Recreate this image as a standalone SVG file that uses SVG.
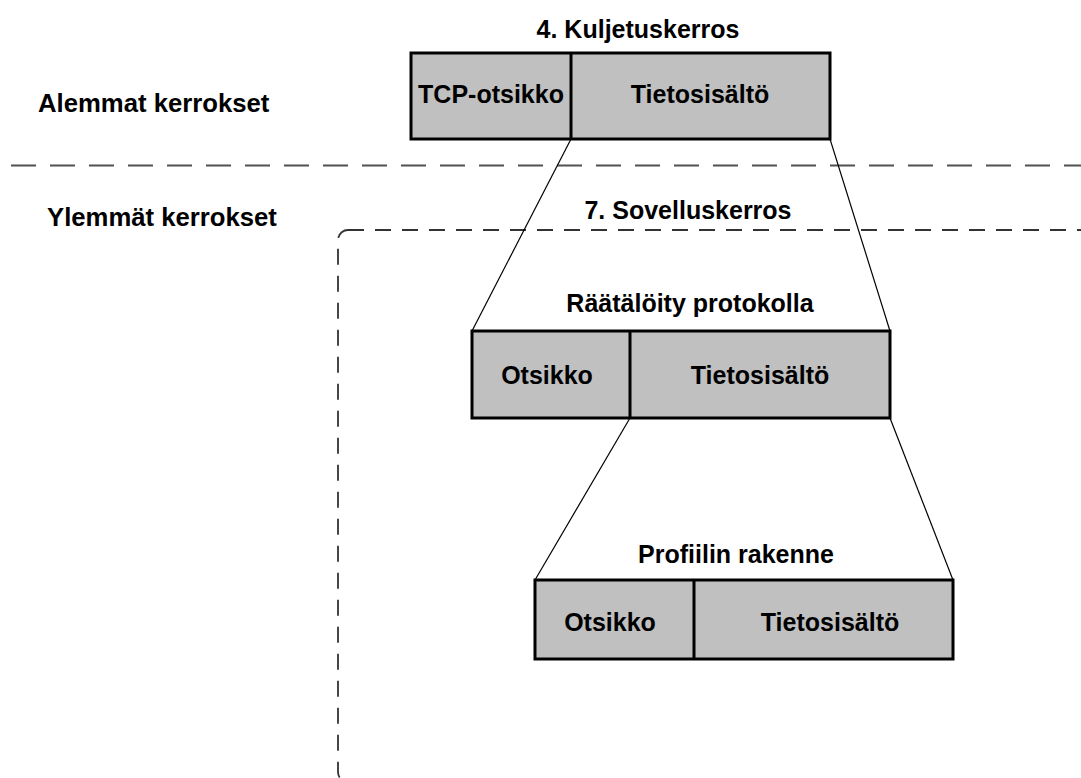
<svg xmlns="http://www.w3.org/2000/svg" width="1081" height="778" viewBox="0 0 1081 778">
  <style>
    text { font-family: "Liberation Sans", Arial, sans-serif; font-weight: bold; font-size: 25px; fill: #000; }
    .mid { text-anchor: middle; }
    .side { font-size: 25.7px; }
    .cell { fill: #c0c0c0; stroke: #000; stroke-width: 3; }
    .div { stroke: #000; stroke-width: 3; }
    .link { stroke: #000; stroke-width: 1.2; fill: none; }
    .sep { stroke: #505050; stroke-width: 2; stroke-dasharray: 25 14; fill: none; }
    .frame { stroke: #333; stroke-width: 1.8; stroke-dasharray: 16 11; fill: none; }
  </style>

  <!-- layer separator and application layer frame -->
  <line class="sep" x1="11" y1="165.5" x2="1081" y2="165.5"/>
  <rect class="frame" x="338" y="230" width="800" height="552" rx="10"/>

  <!-- side labels -->
  <text class="side" x="38" y="112">Alemmat kerrokset</text>
  <text class="side" x="47" y="226">Ylemmät kerrokset</text>
  <text class="mid" x="638" y="38">4. Kuljetuskerros</text>
  <text class="mid" x="688" y="219">7. Sovelluskerros</text>

  <!-- connectors between nested payloads -->
  <g id="connectors">
    <line class="link" x1="571" y1="139" x2="472" y2="331"/>
    <line class="link" x1="830" y1="139" x2="890" y2="331"/>
    <line class="link" x1="630" y1="418" x2="535" y2="580"/>
    <line class="link" x1="890" y1="418" x2="953" y2="580"/>
  </g>

  <g id="tcp-segment">
    <rect class="cell" x="411" y="53" width="419" height="86"/>
    <line class="div" x1="571" y1="53" x2="571" y2="139"/>
    <text class="mid" x="491" y="103">TCP-otsikko</text>
    <text class="mid" x="700" y="103">Tietosisältö</text>
  </g>

  <g id="custom-protocol">
    <text class="mid" x="690" y="312">Räätälöity protokolla</text>
    <rect class="cell" x="472" y="331" width="418" height="87"/>
    <line class="div" x1="630" y1="331" x2="630" y2="418"/>
    <text class="mid" x="547" y="384">Otsikko</text>
    <text class="mid" x="760" y="384">Tietosisältö</text>
  </g>

  <g id="profile-structure">
    <text class="mid" x="736" y="563">Profiilin rakenne</text>
    <rect class="cell" x="535" y="580" width="418" height="79"/>
    <line class="div" x1="694" y1="580" x2="694" y2="659"/>
    <text class="mid" x="610" y="631">Otsikko</text>
    <text class="mid" x="830" y="631">Tietosisältö</text>
  </g>
</svg>
